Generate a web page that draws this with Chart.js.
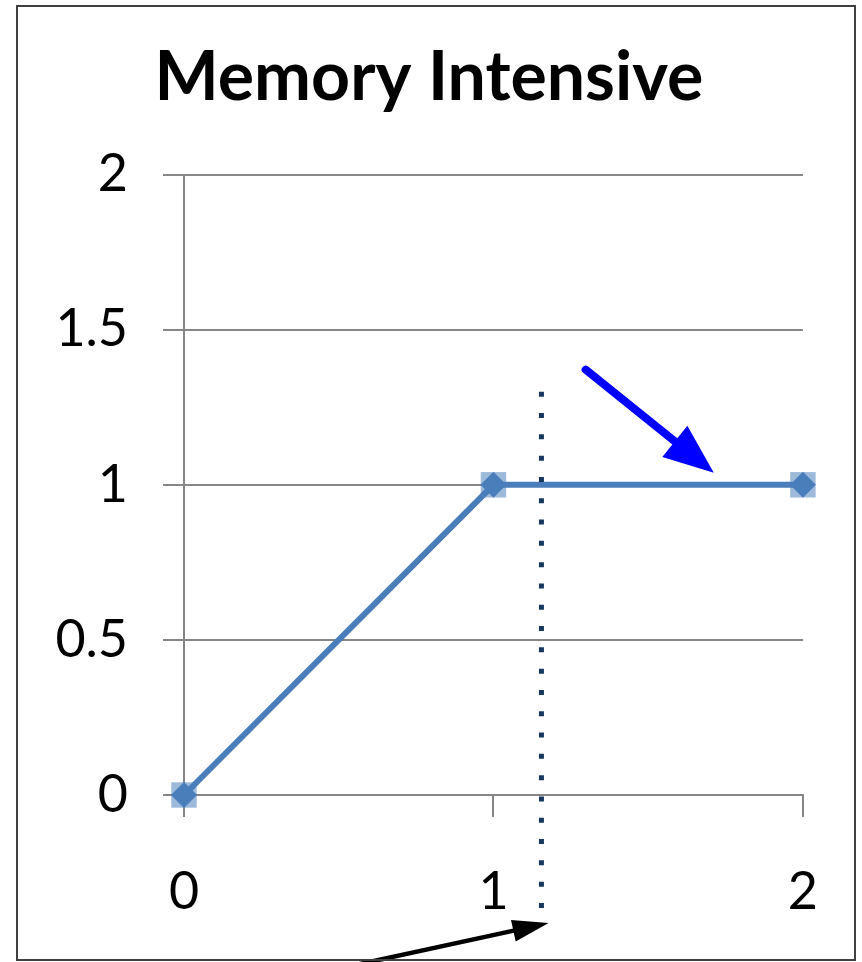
<!DOCTYPE html>
<html>
<head>
<meta charset="utf-8">
<script src="https://cdn.jsdelivr.net/npm/chart.js@4/dist/chart.umd.min.js"></script>
<style>
html,body{margin:0;padding:0;background:#fff;}
#wrap{position:relative;width:862px;height:962px;}
</style>
</head>
<body>
<div id="wrap"><canvas id="c" width="862" height="962"></canvas></div>
<script>
// ---- data ----
const chartTitle = 'Memory Intensive';
const xValues = [0, 1, 2];
const yValues = [0, 1, 1];
const xTicks = [0, 1, 2];
const yTicks = [0, 0.5, 1, 1.5, 2];
const yTickLabels = ['0', '0.5', '1', '1.5', '2'];
// annotations (data coordinates)
const dottedLineX = 1.155;
const dottedLineY = [1.30, -0.42];
const blueArrow = [[1.298, 1.371], [1.712, 1.039]];
const blackArrow = [[0.401, -0.581], [1.178, -0.413]];

const points = xValues.map((x, i) => ({x: x, y: yValues[i]}));
const FONT = 'Lato, "Open Sans", sans-serif';

function arrow(ctx, x1, y1, x2, y2, color, w, headLen, headHalf) {
  const ang = Math.atan2(y2 - y1, x2 - x1);
  const bx = x2 - Math.cos(ang) * headLen, by = y2 - Math.sin(ang) * headLen;
  ctx.save();
  ctx.strokeStyle = color; ctx.fillStyle = color;
  ctx.lineWidth = w; ctx.lineCap = 'round';
  ctx.beginPath(); ctx.moveTo(x1, y1); ctx.lineTo(bx + Math.cos(ang) * 4, by + Math.sin(ang) * 4); ctx.stroke();
  ctx.beginPath();
  ctx.moveTo(x2, y2);
  ctx.lineTo(bx + Math.sin(ang) * headHalf, by - Math.cos(ang) * headHalf);
  ctx.lineTo(bx - Math.sin(ang) * headHalf, by + Math.cos(ang) * headHalf);
  ctx.closePath(); ctx.fill();
  ctx.restore();
}

const overlay = {
  id: 'overlay',
  beforeDraw(chart) {
    const ctx = chart.ctx;
    ctx.save(); ctx.fillStyle = '#fff'; ctx.fillRect(0, 0, chart.width, chart.height); ctx.restore();
  },
  afterDraw(chart) {
    const ctx = chart.ctx, xs = chart.scales.x, ys = chart.scales.y;
    // dotted vertical line
    ctx.save();
    ctx.strokeStyle = '#17375e'; ctx.lineWidth = 5; ctx.setLineDash([5, 16.3]);
    ctx.beginPath();
    const dx = xs.getPixelForValue(dottedLineX);
    ctx.moveTo(dx, ys.getPixelForValue(dottedLineY[0]));
    ctx.lineTo(dx, ys.getPixelForValue(dottedLineY[1]));
    ctx.stroke();
    ctx.restore();
    arrow(ctx, xs.getPixelForValue(blueArrow[0][0]), ys.getPixelForValue(blueArrow[0][1]),
      xs.getPixelForValue(blueArrow[1][0]), ys.getPixelForValue(blueArrow[1][1]), '#0000ff', 8, 50, 20);
    arrow(ctx, xs.getPixelForValue(blackArrow[0][0]), ys.getPixelForValue(blackArrow[0][1]),
      xs.getPixelForValue(blackArrow[1][0]), ys.getPixelForValue(blackArrow[1][1]), '#000000', 4.5, 36, 11);
    // frame
    ctx.save();
    ctx.strokeStyle = '#404040'; ctx.lineWidth = 2;
    ctx.strokeRect(17, 6, 838, 954);
    ctx.restore();
  }
};

new Chart(document.getElementById('c'), {
  type: 'scatter',
  data: {
    datasets: [
      {
        data: points, showLine: true, borderColor: '#4a7ebb', borderWidth: 6, clip: false,
        pointStyle: 'rectRot', pointRadius: 13, pointBackgroundColor: '#4a7ebb', pointBorderWidth: 0,
        order: 1
      },
      {
        data: points, showLine: false, clip: false,
        pointStyle: 'rect', pointRadius: 18, pointBackgroundColor: 'rgba(79,129,189,0.55)', pointBorderWidth: 0,
        order: 2
      }
    ]
  },
  options: {
    responsive: false, animation: false,
    layout: {padding: {left: 50, right: 54, top: 0, bottom: 0}},
    plugins: {
      legend: {display: false}, tooltip: {enabled: false},
      title: {display: true, text: chartTitle, color: '#000',
        font: {family: FONT, size: 68, weight: 'bold', lineHeight: 1.2},
        padding: {top: 37, bottom: 56}}
    },
    scales: {
      x: {
        type: 'linear', min: 0, max: 2,
        afterFit(s) { s.height = 167; },
        afterBuildTicks(s) { s.ticks = xTicks.map(v => ({value: v})); },
        grid: {drawOnChartArea: false, drawTicks: true, tickLength: 22, color: '#868686', lineWidth: 2},
        border: {display: true, color: '#868686', width: 2},
        ticks: {color: '#000', padding: 44, font: {family: FONT, size: 52}}
      },
      y: {
        type: 'linear', min: 0, max: 2,
        afterFit(s) { s.width = 134; },
        afterBuildTicks(s) { s.ticks = yTicks.map(v => ({value: v})); },
        grid: {drawOnChartArea: true, drawTicks: true, tickLength: 21, color: '#868686', lineWidth: 2},
        border: {display: true, color: '#868686', width: 2},
        ticks: {color: '#000', padding: 35, font: {family: FONT, size: 52},
          callback: (v) => { const i = yTicks.indexOf(v); return i >= 0 ? yTickLabels[i] : ''; }}
      }
    }
  },
  plugins: [overlay]
});
</script>
</body>
</html>
